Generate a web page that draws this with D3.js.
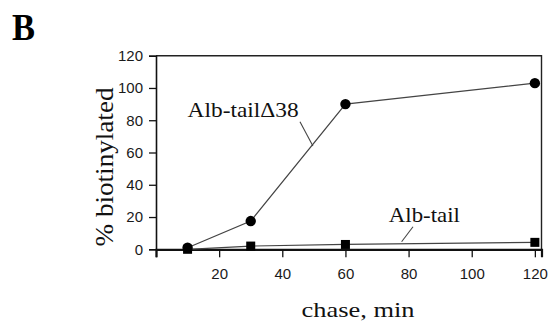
<!DOCTYPE html>
<html><head><meta charset="utf-8">
<script src="https://cdn.jsdelivr.net/npm/d3@7"></script>
<style>body{margin:0;background:#fff}svg{display:block}</style>
</head><body>
<script>
const chaseMin = [10, 30, 60, 120];
const albTailDelta38 = [1, 17.5, 90, 103];
const albTail = [0, 2, 3, 4.3];
const xTicks = [0, 20, 40, 60, 80, 100, 120];
const yTicks = [0, 20, 40, 60, 80, 100, 120];

const W = 549, H = 322;
const svg = d3.select("body").append("svg").attr("width", W).attr("height", H);
const x = d3.scaleLinear().domain([0, 122.1]).range([156, 541.5]);
const y = d3.scaleLinear().domain([0, 120]).range([249.3, 55.7]);

// frame top/right
svg.append("path").attr("d", `M${x(0)},${y(120)}H${x(122.1)}V${y(0)}`)
  .attr("fill","none").attr("stroke","#222").attr("stroke-width",1.4);

const xAxis = svg.append("g").attr("transform",`translate(0,${y(0)})`)
  .call(d3.axisBottom(x).tickValues(xTicks).tickSize(8).tickPadding(11)
    .tickFormat(d => d === 0 ? "" : d));
xAxis.select(".domain").attr("stroke-width",2.2).attr("stroke","#111");
const yAxis = svg.append("g").attr("transform",`translate(${x(0)},0)`)
  .call(d3.axisLeft(y).tickValues(yTicks).tickSize(7).tickPadding(6));
yAxis.select(".domain").attr("stroke-width",1.6).attr("stroke","#111");
svg.selectAll(".tick line").attr("stroke","#111").attr("stroke-width",1.3);
svg.selectAll(".tick text").attr("font-family","Liberation Sans, Arial, sans-serif")
  .attr("font-size",15).attr("fill","#1a1a1a");

const line = d3.line().x(d => x(d[0])).y(d => y(d[1]));
const s1 = chaseMin.map((c,i)=>[c, albTailDelta38[i]]);
const s2 = chaseMin.map((c,i)=>[c, albTail[i]]);
svg.append("path").attr("d", line(s2)).attr("fill","none").attr("stroke","#444").attr("stroke-width",1.2);
svg.append("path").attr("d", line(s1)).attr("fill","none").attr("stroke","#444").attr("stroke-width",1.2);
svg.selectAll("rect.m").data(s2).enter().append("rect")
  .attr("x", d=>x(d[0])-4.5).attr("y", d=>y(d[1])-4.5).attr("width",9).attr("height",9).attr("fill","#000");
svg.selectAll("circle.m").data(s1).enter().append("circle")
  .attr("cx", d=>x(d[0])).attr("cy", d=>y(d[1])).attr("r",5.2).attr("fill","#000");

const serif = "Liberation Serif, Times New Roman, serif";
// annotations (data units)
svg.append("text").attr("x", x(27.6)).attr("y", y(81.8)).attr("text-anchor","middle")
  .attr("font-family",serif).attr("font-size",21).attr("fill","#111")
  .attr("textLength",111).attr("lengthAdjust","spacingAndGlyphs").text("Alb-tailΔ38");
svg.append("line").attr("x1",x(45.6)).attr("y1",y(79)).attr("x2",x(49.7)).attr("y2",y(64))
  .attr("stroke","#444").attr("stroke-width",1.1);
svg.append("text").attr("x", x(85)).attr("y", y(17.1)).attr("text-anchor","middle")
  .attr("font-family",serif).attr("font-size",21).attr("fill","#111")
  .attr("textLength",71).attr("lengthAdjust","spacingAndGlyphs").text("Alb-tail");
svg.append("line").attr("x1",x(81.4)).attr("y1",y(14)).attr("x2",x(77.8)).attr("y2",y(4.7))
  .attr("stroke","#444").attr("stroke-width",1.1);

// axis titles
svg.append("text").attr("x", 358).attr("y", 317).attr("text-anchor","middle")
  .attr("font-family",serif).attr("font-size",22).attr("fill","#111")
  .attr("textLength",113).attr("lengthAdjust","spacingAndGlyphs").text("chase, min");
svg.append("text").attr("transform","translate(113,167) rotate(-90)").attr("text-anchor","middle")
  .attr("font-family",serif).attr("font-size",26).attr("fill","#111")
  .attr("textLength",159).attr("lengthAdjust","spacingAndGlyphs").text("% biotinylated");
svg.append("text").attr("x", 12).attr("y", 40).attr("font-family",serif).attr("font-weight","bold")
  .attr("font-size",38).attr("fill","#000").attr("textLength",23).attr("lengthAdjust","spacingAndGlyphs").text("B");
</script>
</body></html>
